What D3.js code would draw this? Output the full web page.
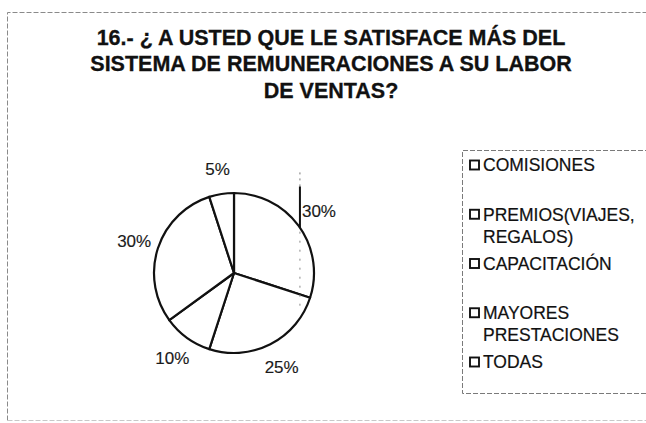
<!DOCTYPE html>
<html>
<head>
<meta charset="utf-8">
<script src="https://cdn.jsdelivr.net/npm/d3@7/dist/d3.min.js"></script>
<style>
  html, body { margin: 0; padding: 0; background: #fff; }
  svg { display: block; }
  text { font-family: "Liberation Sans", Arial, sans-serif; }
</style>
</head>
<body>
<svg id="chart" width="646" height="423"></svg>
<script>
// Survey question 16: what the sales staff values most in the pay system
const titleLines = [
  "16.- ¿ A USTED QUE LE SATISFACE MÁS DEL",
  "SISTEMA DE REMUNERACIONES A SU LABOR",
  "DE VENTAS?"
];
const categories = ["COMISIONES", "PREMIOS(VIAJES, REGALOS)", "CAPACITACIÓN", "MAYORES PRESTACIONES", "TODAS"];
const legendLines = [["COMISIONES"], ["PREMIOS(VIAJES,", "REGALOS)"], ["CAPACITACIÓN"], ["MAYORES", "PRESTACIONES"], ["TODAS"]];
const values = [30, 25, 10, 30, 5];

const svg = d3.select("#chart");
const W = 646, H = 423;

svg.append("rect").attr("width", W).attr("height", H).attr("fill", "#fff");

// outer chart frame (dotted grey)
const frame = svg.append("g")
  .attr("fill", "none").attr("stroke", "#8a8a8a").attr("stroke-width", 1)
  .attr("stroke-dasharray", "5,2");
frame.append("path").attr("d", "M7.5,420.5 L7.5,12.5 L650,12.5");
frame.append("path").attr("d", "M7.5,420.5 L650,420.5").attr("stroke", "#c8c8c8");

// title
const title = svg.append("text")
  .attr("text-anchor", "middle")
  .attr("font-weight", "bold")
  .attr("font-size", 21.5)
  .attr("fill", "#111")
  .attr("stroke", "#111")
  .attr("stroke-width", 0.3);
title.selectAll("tspan").data(titleLines).join("tspan")
  .attr("x", 331)
  .attr("y", (d, i) => 44.5 + i * 26.5)
  .text(d => d);

// pie
const cx = 234, cy = 273, R = 80;
const g = svg.append("g").attr("transform", `translate(${cx},${cy})`);
const arcs = d3.pie().sort(null).value(d => d)(values);
const arc = d3.arc().innerRadius(0).outerRadius(R);
const labelArc = d3.arc().innerRadius(105).outerRadius(105);

g.selectAll("path.slice").data(arcs).join("path")
  .attr("class", "slice")
  .attr("d", arc)
  .attr("fill", "#fff")
  .attr("stroke", "#111")
  .attr("stroke-width", 2.2)
  .attr("stroke-linejoin", "round");

const labels = g.selectAll("text.lbl").data(arcs).join("text")
  .attr("class", "lbl")
  .attr("x", d => labelArc.centroid(d)[0])
  .attr("y", d => labelArc.centroid(d)[1])
  .attr("dy", "0.36em")
  .attr("text-anchor", "middle")
  .attr("font-size", 17)
  .attr("fill", "#1a1a1a")
  .attr("stroke", "#1a1a1a")
  .attr("stroke-width", 0.15)
  .text(d => d.data + "%");

// leader line of the first label, dropped to the rim of its slice
const first = labels.filter((d, i) => i === 0);
const bb = first.node().getBBox();
const lx = bb.x - 2;
const rimY = -Math.sqrt(R * R - lx * lx);
g.append("line")
  .attr("x1", lx).attr("x2", lx)
  .attr("y1", bb.y - 16).attr("y2", rimY)
  .attr("stroke", "#111").attr("stroke-width", 2);
g.append("line")
  .attr("x1", lx).attr("x2", lx)
  .attr("y1", bb.y - 30).attr("y2", bb.y - 16)
  .attr("stroke", "#777").attr("stroke-width", 1).attr("stroke-dasharray", "2,4");
g.append("line")
  .attr("x1", lx).attr("x2", lx)
  .attr("y1", rimY + 4).attr("y2", rimY + 78)
  .attr("stroke", "#888").attr("stroke-width", 1).attr("stroke-dasharray", "2,7");

// legend box
const legend = svg.append("g");
legend.append("path")
  .attr("d", "M650,150.5 L462.5,150.5 L462.5,393.5 L650,393.5")
  .attr("fill", "none").attr("stroke", "#7a7a7a").attr("stroke-width", 1)
  .attr("stroke-dasharray", "5,2");

const ly = d3.scaleLinear().domain([0, categories.length - 1]).range([165, 362]);
const items = legend.selectAll("g.item").data(categories).join("g")
  .attr("class", "item")
  .attr("transform", (d, i) => `translate(0,${ly(i)})`);
items.append("rect")
  .attr("x", 470).attr("y", -4.5).attr("width", 9).attr("height", 9)
  .attr("fill", "#fff").attr("stroke", "#111").attr("stroke-width", 1.9);
items.append("text")
  .attr("font-size", 17.5)
  .attr("fill", "#111")
  .attr("stroke", "#111")
  .attr("stroke-width", 0.2)
  .selectAll("tspan").data((d, i) => legendLines[i]).join("tspan")
  .attr("x", 483)
  .attr("y", (d, j) => j * 22)
  .attr("dy", "0.36em")
  .text(d => d);
</script>
</body>
</html>
